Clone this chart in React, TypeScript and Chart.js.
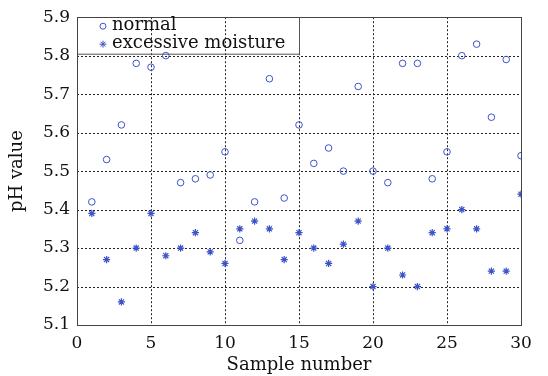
import React, { useEffect, useRef } from "react";
import { Chart, registerables } from "chart.js";

Chart.register(...registerables);

const sampleNumbers = Array.from({ length: 30 }, (_, i) => i + 1);
const normalPH = [5.42, 5.53, 5.62, 5.78, 5.77, 5.80, 5.47, 5.48, 5.49, 5.55, 5.32, 5.42, 5.74, 5.43, 5.62, 5.52, 5.56, 5.50, 5.72, 5.50, 5.47, 5.78, 5.78, 5.48, 5.55, 5.80, 5.83, 5.64, 5.79, 5.54];
const moisturePH = [5.39, 5.27, 5.16, 5.30, 5.39, 5.28, 5.30, 5.34, 5.29, 5.26, 5.35, 5.37, 5.35, 5.27, 5.34, 5.30, 5.26, 5.31, 5.37, 5.20, 5.30, 5.23, 5.20, 5.34, 5.35, 5.40, 5.35, 5.24, 5.24, 5.44];
const seriesLabels = ["normal", "excessive moisture"];
const xTitle = "Sample number";
const yTitle = "pH value";

const FONT = "'DejaVu Serif', 'Liberation Serif', serif";
const BLUE = "#3c52c8";

const gridPlugin = {
  id: "dottedGrid",
  beforeDatasetsDraw(chart: any) {
    const { ctx, chartArea: a, scales } = chart;
    ctx.save();
    ctx.strokeStyle = "#222";
    ctx.lineWidth = 1;
    ctx.setLineDash([2, 2]);
    ctx.beginPath();
    scales.x.ticks.forEach((t: any) => {
      if (t.value <= scales.x.min || t.value >= scales.x.max) return;
      const x = Math.round(scales.x.getPixelForValue(t.value)) + 0.5;
      ctx.moveTo(x, a.top);
      ctx.lineTo(x, a.bottom);
    });
    scales.y.ticks.forEach((t: any) => {
      if (t.value <= scales.y.min + 1e-6 || t.value >= scales.y.max - 1e-6) return;
      const y = Math.round(scales.y.getPixelForValue(t.value)) + 0.5;
      ctx.moveTo(a.left, y);
      ctx.lineTo(a.right, y);
    });
    ctx.stroke();
    ctx.restore();
  },
};

const framePlugin = {
  id: "frame",
  afterDraw(chart: any) {
    const { ctx, chartArea: a, scales } = chart;
    ctx.save();
    ctx.strokeStyle = "#444";
    ctx.lineWidth = 1;
    ctx.setLineDash([]);
    ctx.strokeRect(Math.round(a.left) + 0.5, Math.round(a.top) + 0.5, Math.round(a.right - a.left), Math.round(a.bottom - a.top));
    // legend box
    const bx = Math.round(scales.x.getPixelForValue(15)) + 0.5;
    ctx.strokeStyle = "#555";
    ctx.beginPath();
    ctx.moveTo(bx, a.top);
    ctx.lineTo(bx, a.top + 37);
    ctx.lineTo(Math.round(a.left) + 0.5, a.top + 37);
    ctx.stroke();
    // legend
    const lx = a.left + 26;
    const tx = a.left + 35;
    const rows = [a.top + 9, a.top + 27];
    ctx.font = "18px " + FONT;
    ctx.fillStyle = "#111";
    ctx.textBaseline = "middle";
    ctx.textAlign = "left";
    seriesLabels.forEach((lab, i) => ctx.fillText(lab, tx, rows[i] - 1));
    ctx.strokeStyle = BLUE;
    ctx.lineWidth = 1;
    ctx.beginPath();
    ctx.arc(lx, rows[0], 3, 0, Math.PI * 2);
    ctx.stroke();
    const r = 3.5;
    const y = rows[1];
    ctx.beginPath();
    ctx.moveTo(lx - r, y); ctx.lineTo(lx + r, y);
    ctx.moveTo(lx, y - r); ctx.lineTo(lx, y + r);
    const d = r * 0.707;
    ctx.moveTo(lx - d, y - d); ctx.lineTo(lx + d, y + d);
    ctx.moveTo(lx - d, y + d); ctx.lineTo(lx + d, y - d);
    ctx.stroke();
    ctx.restore();
  },
};

export default function App() {
  const ref = useRef<HTMLCanvasElement | null>(null);
  useEffect(() => {
    if (!ref.current) return;
    const chart = new Chart(ref.current, {
      type: "scatter",
      data: {
        datasets: [
          {
            label: seriesLabels[0],
            data: sampleNumbers.map((x, i) => ({ x, y: normalPH[i] })),
            pointStyle: "circle",
            pointRadius: 3.3,
            borderColor: BLUE,
            backgroundColor: "rgba(0,0,0,0)",
            borderWidth: 1,
          },
          {
            label: seriesLabels[1],
            data: sampleNumbers.map((x, i) => ({ x, y: moisturePH[i] })),
            pointStyle: "star",
            pointRadius: 3.6,
            borderColor: BLUE,
            backgroundColor: BLUE,
            borderWidth: 1.2,
          },
        ],
      },
      options: {
        animation: false,
        responsive: false,
        maintainAspectRatio: false,
        layout: { padding: { top: 14, right: 27, left: 0, bottom: 0 } },
        plugins: { legend: { display: false }, tooltip: { enabled: false } },
        scales: {
          x: {
            type: "linear",
            min: 0,
            max: 30,
            ticks: { stepSize: 5, color: "#111", font: { family: FONT, size: 17 }, padding: 8 },
            grid: { display: false, drawTicks: false, tickLength: 0 },
            border: { display: false },
            title: { display: true, text: xTitle, color: "#111", font: { family: FONT, size: 18 }, padding: { top: 0, bottom: 0 } },
            afterFit: (s: any) => { s.height = 51; },
          },
          y: {
            min: 5.1,
            max: 5.9,
            ticks: { stepSize: 0.1, color: "#111", font: { family: FONT, size: 17 }, padding: 7, callback: (v: any) => Number(v).toFixed(1) },
            grid: { display: false, drawTicks: false, tickLength: 0 },
            border: { display: false },
            title: { display: true, text: yTitle, color: "#111", font: { family: FONT, size: 18 }, padding: { top: 7, bottom: 0 } },
            afterFit: (s: any) => { s.width = 77; },
          },
        },
      },
      plugins: [gridPlugin, framePlugin],
    });
    return () => chart.destroy();
  }, []);
  return (
    <div style={{ position: "fixed", left: 0, top: 0, width: 548, height: 376, background: "#fff" }}>
      <canvas ref={ref} width={548} height={376} style={{ width: 548, height: 376 }} />
    </div>
  );
}
